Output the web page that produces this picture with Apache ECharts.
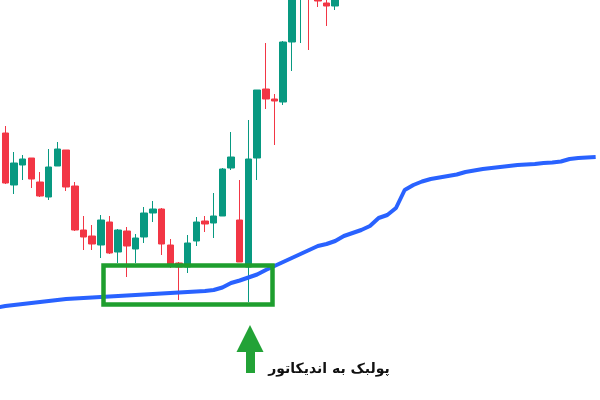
<!DOCTYPE html>
<html>
<head>
<meta charset="utf-8">
<script src="https://cdn.jsdelivr.net/npm/echarts@6/dist/echarts.min.js"></script>
<style>html,body{margin:0;padding:0;background:#fff}#c{width:600px;height:400px}</style>
</head>
<body>
<div id="c"></div>
<script>
// Candles: [open, close, low, high] (price units)
const candles = [
  [267,217,216,274],[215,237,206,248],[235,241,220,245],[242,221,212,242],[218,204,203,228],
  [203,233,200,251],[234,251,234,258],[250,213,209,250],[214,170,169,218],[170,163,150,184],
  [164,156,150,175],[155,180,142,185],[178,147,146,184],[148,170,137,171],[169,154,123,173],
  [151,162,137,166],[163,187,157,193],[187,191,178,199],[191,156,145,192],[155,134,132,161],
  [137,133,100,138],[133,157,127,165],[159,178,154,183],[179,176,168,184],[177,184,162,207],
  [184,231,184,232],[232,243,230,268],[180,138,138,220],[133,241,98,280],[242,310,220,310],
  [311,301,291,357],[301,299,255,306],[298,358,295,359],[358,420,329,430],[410,440,357,450],
  [440,412,350,450],[408,399,393,410],[397,394,374,402],[394,405,390,410]
];
// Moving average, one value per bar starting one bar before the first candle
const maValues = [
  92.5,94,95,96,97,98,99,100,101,101.5,
  102,102.5,103,103.5,104,104.5,105,105.5,106,106.5,
  107,107.5,108,108.5,109,110,112.5,117,119.5,122.5,
  125.5,130,134,138,142,146,150,154,156,159,
  164,167,170,174,182,185,192,210,215,218.5,
  221,222.5,224,225.5,228,229.5,231,232,233,234,
  235,235.5,236,237,237.5,238.5,241,242,242.5,243
];
const N = maValues.length - 1; // bars on the category axis
const categories = Array.from({ length: N }, (_, i) => String(i + 1));
const candleData = categories.map((_, i) => (i < candles.length ? candles[i] : '-'));
const maData = maValues.map((v, i) => [i - 1, v]);
const annotationText = 'پولبک به اندیکاتور';

const chart = echarts.init(document.getElementById('c'));
chart.setOption({
  animation: false,
  backgroundColor: '#ffffff',
  grid: { left: 1, top: 0, width: N * 8.75, height: 400 },
  xAxis: [
    { type: 'category', data: categories, show: false, boundaryGap: true },
    { type: 'value', min: -0.5, max: N - 0.5, show: false }
  ],
  yAxis: { type: 'value', min: 0, max: 400, show: false },
  series: [
    {
      type: 'candlestick',
      data: candleData,
      xAxisIndex: 0,
      barWidth: 7,
      clip: true,
      itemStyle: {
        color: '#089981', color0: '#F23645',
        borderColor: '#089981', borderColor0: '#F23645', borderWidth: 1
      },
      z: 2
    },
    {
      type: 'line',
      data: maData,
      xAxisIndex: 1,
      symbol: 'none',
      smooth: false,
      clip: false,
      lineStyle: { color: '#2962FF', width: 4 },
      z: 3
    }
  ],
  graphic: [
    { type: 'rect', shape: { x: 103.5, y: 265.5, width: 169, height: 39 },
      style: { fill: 'none', stroke: '#1E9E2E', lineWidth: 4.5 }, z: 10 },
    { type: 'polygon', shape: { points: [[250,325],[263.5,352],[255,352],[255,373],[246,373],[246,352],[236.5,352]] },
      style: { fill: '#22A236' }, z: 10 },
    { type: 'text', x: 329, y: 369,
      style: { text: annotationText, fill: '#111111', font: 'bold 14px "DejaVu Sans"', align: 'center', verticalAlign: 'middle' }, z: 10 }
  ]
});
</script>
</body>
</html>
